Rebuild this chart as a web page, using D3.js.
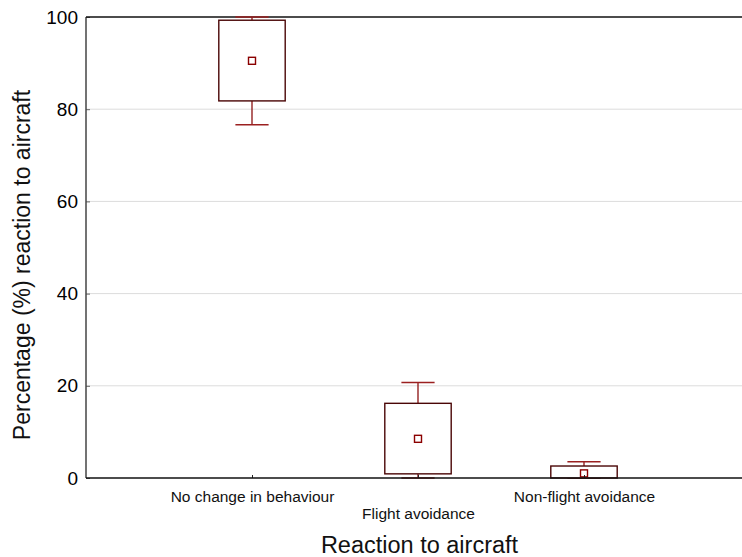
<!DOCTYPE html>
<html>
<head>
<meta charset="utf-8">
<script src="https://cdn.jsdelivr.net/npm/d3@7/dist/d3.min.js"></script>
<style>
  html, body { margin: 0; padding: 0; background: #fff; }
  svg { display: block; font-family: "Liberation Sans", Arial, Helvetica, sans-serif; }
</style>
</head>
<body>
<svg id="chart" width="742" height="557"></svg>
<script>
// Reaction categories and box summaries (percent)
const categories = ["No change in behaviour", "Flight avoidance", "Non-flight avoidance"];
const means      = [90.5, 8.5, 1.0];
const q1         = [81.8, 0.9, 0.0];
const q3         = [99.3, 16.2, 2.6];
const whiskerLo  = [76.6, 0.0, 0.0];
const whiskerHi  = [100, 20.7, 3.5];
const yTicks     = [0, 20, 40, 60, 80, 100];

const W = 742, H = 557;
const margin = { top: 17, right: -8, bottom: 79, left: 86 };
const plotW = W - margin.left - margin.right;
const plotH = H - margin.top - margin.bottom;

const svg = d3.select("#chart");
const g = svg.append("g").attr("transform", `translate(${margin.left},${margin.top})`);

const x = d3.scalePoint().domain(categories).range([0, plotW]).padding(1);
const y = d3.scaleLinear().domain([0, 100]).range([plotH, 0]);
const step = x.step();
const boxW = step * 0.4;
const capW = boxW * 0.5;

// grid lines
g.append("g").selectAll("line").data(yTicks.filter(t => t > 0 && t < 100)).join("line")
  .attr("x1", 0).attr("x2", W).attr("y1", d => y(d)).attr("y2", d => y(d))
  .attr("stroke", "#dcdcdc").attr("stroke-width", 1);

// y axis
const yAxis = g.append("g")
  .call(d3.axisLeft(y).tickValues(yTicks).tickSize(-4).tickPadding(8).tickFormat(d3.format("d")));
yAxis.select(".domain").remove();
yAxis.selectAll(".tick line").attr("stroke", "#666");
yAxis.selectAll(".tick text").attr("font-size", 19).attr("fill", "#000")
  .attr("font-family", "Liberation Sans, Arial, sans-serif");
g.append("line").attr("x1", 0).attr("x2", 0).attr("y1", 0).attr("y2", plotH)
  .attr("stroke", "#444").attr("stroke-width", 1.5);

// top frame
g.append("line").attr("x1", 0).attr("x2", W).attr("y1", 0).attr("y2", 0)
  .attr("stroke", "#111").attr("stroke-width", 1.5);

// boxes
const box = g.append("g").selectAll("g").data(categories).join("g")
  .attr("transform", d => `translate(${x(d)},0)`);

box.append("line")
  .attr("x1", 0).attr("x2", 0)
  .attr("y1", (d, i) => y(whiskerHi[i])).attr("y2", (d, i) => y(q3[i]))
  .attr("stroke", "#8b1010").attr("stroke-width", 1.3);
box.append("line")
  .attr("x1", 0).attr("x2", 0)
  .attr("y1", (d, i) => y(q1[i])).attr("y2", (d, i) => y(whiskerLo[i]))
  .attr("stroke", "#8b1010").attr("stroke-width", 1.3);
box.append("line")
  .attr("x1", -capW / 2).attr("x2", capW / 2)
  .attr("y1", (d, i) => y(whiskerHi[i])).attr("y2", (d, i) => y(whiskerHi[i]))
  .attr("stroke", "#9b2020").attr("stroke-width", 1.5);
box.append("line")
  .attr("x1", -capW / 2).attr("x2", capW / 2)
  .attr("y1", (d, i) => y(whiskerLo[i])).attr("y2", (d, i) => y(whiskerLo[i]))
  .attr("stroke", "#9b2020").attr("stroke-width", 1.5);
box.append("rect")
  .attr("x", -boxW / 2).attr("width", boxW)
  .attr("y", (d, i) => y(q3[i])).attr("height", (d, i) => y(q1[i]) - y(q3[i]))
  .attr("fill", "#fff").attr("stroke", "#4a0606").attr("stroke-width", 1.4);
box.append("rect")
  .attr("x", -3.5).attr("width", 7)
  .attr("y", (d, i) => y(means[i]) - 3.5).attr("height", 7)
  .attr("fill", "#fff").attr("stroke", "#8b0000").attr("stroke-width", 1.4);

// x axis
const xAxis = g.append("g").attr("transform", `translate(0,${plotH})`)
  .call(d3.axisBottom(x).tickSize(-3).tickPadding(0));
xAxis.select(".domain").remove();
xAxis.selectAll(".tick line").attr("stroke", "#222");
xAxis.selectAll(".tick text")
  .attr("font-size", 15.5).attr("fill", "#111")
  .attr("font-family", "Liberation Sans, Arial, sans-serif")
  .attr("dy", null)
  .attr("y", (d, i) => i % 2 === 1 ? 41 : 23.5);
g.append("line").attr("x1", 0).attr("x2", W).attr("y1", plotH).attr("y2", plotH)
  .attr("stroke", "#111").attr("stroke-width", 1.5);

// axis titles
svg.append("text")
  .attr("x", 419.5).attr("y", 553)
  .attr("text-anchor", "middle").attr("font-size", 23.5).attr("fill", "#111")
  .text("Reaction to aircraft");
svg.append("text")
  .attr("transform", "translate(30,265) rotate(-90)")
  .attr("text-anchor", "middle").attr("font-size", 23).attr("fill", "#111")
  .text("Percentage (%) reaction to aircraft");
</script>
</body>
</html>
